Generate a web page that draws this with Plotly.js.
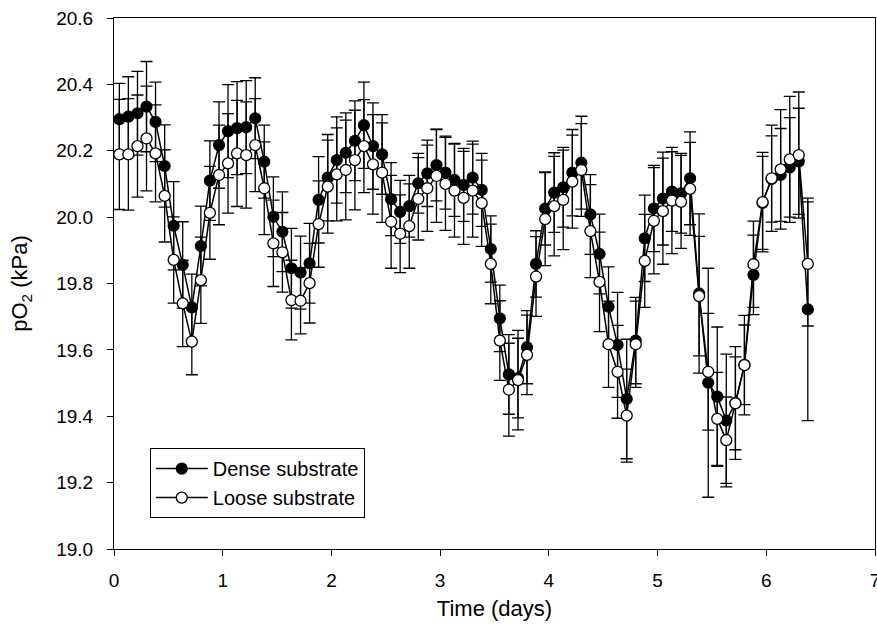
<!DOCTYPE html>
<html>
<head>
<meta charset="utf-8">
<script src="https://cdn.plot.ly/plotly-3.0.1.min.js"></script>
<style>html,body{margin:0;padding:0;background:#fff;}#chart{width:877px;height:631px;}</style>
</head>
<body>
<div id="chart"></div>
<script>
// Time (days)
const timeDays = [
  0.049, 0.132, 0.216, 0.299, 0.382, 0.466, 0.549, 0.632, 0.716, 0.799, 0.882, 0.966,
  1.049, 1.132, 1.216, 1.299, 1.382, 1.466, 1.549, 1.632, 1.716, 1.799, 1.882, 1.966,
  2.049, 2.132, 2.216, 2.299, 2.382, 2.466, 2.549, 2.632, 2.716, 2.799, 2.882, 2.966,
  3.049, 3.132, 3.216, 3.299, 3.382, 3.466, 3.549, 3.632, 3.716, 3.799, 3.882, 3.966,
  4.049, 4.132, 4.216, 4.299, 4.382, 4.466, 4.549, 4.632, 4.716, 4.799, 4.882, 4.966,
  5.049, 5.132, 5.216, 5.299, 5.382, 5.466, 5.549, 5.632, 5.716, 5.799, 5.882, 5.966,
  6.049, 6.132, 6.216, 6.299, 6.382
];
// Dense substrate pO2 (kPa)
const densePO2 = [
  20.295, 20.303, 20.313, 20.333, 20.287, 20.154, 19.974, 19.856, 19.728, 19.913, 20.110, 20.217,
  20.259, 20.268, 20.271, 20.298, 20.167, 20.001, 19.956, 19.846, 19.833, 19.861, 20.052, 20.119,
  20.172, 20.194, 20.230, 20.277, 20.214, 20.189, 20.054, 20.016, 20.033, 20.102, 20.132, 20.157,
  20.134, 20.112, 20.097, 20.119, 20.082, 19.904, 19.695, 19.526, 19.515, 19.608, 19.859, 20.026,
  20.074, 20.090, 20.134, 20.164, 20.008, 19.889, 19.730, 19.615, 19.452, 19.628, 19.936, 20.026,
  20.056, 20.077, 20.072, 20.117, 19.770, 19.501, 19.459, 19.387, 19.440, 19.555, 19.826, 20.043,
  20.115, 20.127, 20.150, 20.168, 19.722
];
const denseErr = [
  0.108, 0.120, 0.126, 0.136, 0.120, 0.124, 0.133, 0.130, 0.100, 0.120, 0.120, 0.130,
  0.140, 0.140, 0.140, 0.122, 0.110, 0.120, 0.120, 0.120, 0.110, 0.120, 0.130, 0.130,
  0.130, 0.120, 0.120, 0.130, 0.130, 0.120, 0.110, 0.095, 0.093, 0.090, 0.100, 0.108,
  0.110, 0.110, 0.110, 0.110, 0.110, 0.100, 0.100, 0.120, 0.120, 0.110, 0.100, 0.110,
  0.120, 0.120, 0.130, 0.140, 0.120, 0.120, 0.120, 0.158, 0.180, 0.130, 0.130, 0.130,
  0.140, 0.120, 0.120, 0.140, 0.240, 0.345, 0.210, 0.200, 0.170, 0.120, 0.120, 0.140,
  0.130, 0.140, 0.150, 0.160, 0.335
];
// Loose substrate pO2 (kPa)
const loosePO2 = [
  20.189, 20.189, 20.214, 20.237, 20.192, 20.064, 19.871, 19.740, 19.625, 19.810, 20.013, 20.127,
  20.162, 20.192, 20.187, 20.217, 20.087, 19.921, 19.894, 19.750, 19.748, 19.801, 19.979, 20.092,
  20.129, 20.142, 20.172, 20.214, 20.159, 20.134, 19.986, 19.950, 19.973, 20.055, 20.087, 20.124,
  20.100, 20.080, 20.058, 20.080, 20.042, 19.859, 19.628, 19.480, 19.509, 19.585, 19.821, 19.994,
  20.033, 20.052, 20.107, 20.142, 19.958, 19.805, 19.617, 19.534, 19.402, 19.617, 19.868, 19.989,
  20.018, 20.050, 20.046, 20.085, 19.762, 19.534, 19.392, 19.328, 19.439, 19.554, 19.858, 20.045,
  20.117, 20.144, 20.174, 20.187, 19.859
];
const looseErr = [
  0.166, 0.168, 0.154, 0.158, 0.146, 0.139, 0.130, 0.130, 0.100, 0.130, 0.140, 0.150,
  0.150, 0.160, 0.160, 0.140, 0.140, 0.130, 0.120, 0.120, 0.100, 0.120, 0.130, 0.140,
  0.140, 0.150, 0.150, 0.140, 0.150, 0.150, 0.140, 0.117, 0.127, 0.124, 0.130, 0.140,
  0.140, 0.140, 0.140, 0.140, 0.130, 0.120, 0.120, 0.140, 0.150, 0.120, 0.120, 0.140,
  0.150, 0.150, 0.140, 0.140, 0.140, 0.150, 0.130, 0.140, 0.140, 0.130, 0.140, 0.160,
  0.160, 0.160, 0.140, 0.140, 0.180, 0.176, 0.140, 0.130, 0.140, 0.150, 0.130, 0.150,
  0.160, 0.180, 0.190, 0.190, 0.187
];
const seriesNames = ["Dense substrate", "Loose substrate"];
const yTicks = [19.0, 19.2, 19.4, 19.6, 19.8, 20.0, 20.2, 20.4, 20.6];
const xTicks = [0, 1, 2, 3, 4, 5, 6, 7];

const FONT = "Arial, 'Liberation Sans', sans-serif";
const errStyle = {type: "data", visible: true, color: "#000", thickness: 1.3, width: 6};

const traces = [
  {
    x: timeDays, y: densePO2, name: seriesNames[0], type: "scatter", mode: "lines+markers",
    line: {color: "#000", width: 1.5},
    marker: {symbol: "circle", size: 11, color: "#000", line: {color: "#000", width: 1.2}},
    error_y: Object.assign({array: denseErr}, errStyle)
  },
  {
    x: timeDays, y: loosePO2, name: seriesNames[1], type: "scatter", mode: "lines+markers",
    line: {color: "#000", width: 1.5},
    marker: {symbol: "circle", size: 11, color: "#fff", line: {color: "#000", width: 1.3}},
    error_y: Object.assign({array: looseErr}, errStyle)
  }
];

const layout = {
  width: 877, height: 631,
  margin: {l: 114, r: 2, t: 18, b: 82},
  paper_bgcolor: "#fff", plot_bgcolor: "#fff",
  font: {family: FONT, size: 19, color: "#000"},
  showlegend: true,
  legend: {
    x: 0.047, y: 0.19, xanchor: "left", yanchor: "top",
    bordercolor: "#000", borderwidth: 1, bgcolor: "#fff",
    font: {family: FONT, size: 20, color: "#000"},
    itemwidth: 52, tracegroupgap: 0
  },
  xaxis: {
    range: [0, 7], tickvals: xTicks, ticktext: xTicks.map(String),
    ticks: "outside", ticklen: 6, tickwidth: 1, tickcolor: "#000",
    ticklabelstandoff: 8, ticklabeloverflow: "allow",
    showline: true, linecolor: "#000", linewidth: 1, mirror: true,
    showgrid: false, zeroline: false,
    tickfont: {family: FONT, size: 19, color: "#000"},
    title: {text: "Time (days)", font: {family: FONT, size: 22, color: "#000"}, standoff: 10}
  },
  yaxis: {
    range: [19.0, 20.6], tickvals: yTicks, ticktext: yTicks.map(v => v.toFixed(1)),
    ticks: "outside", ticklen: 6, tickwidth: 1, tickcolor: "#000",
    ticklabelstandoff: 10, ticklabeloverflow: "allow",
    showline: true, linecolor: "#000", linewidth: 1, mirror: true,
    showgrid: false, zeroline: false,
    tickfont: {family: FONT, size: 19, color: "#000"},
    title: {text: "pO<sub>2</sub> (kPa)", font: {family: FONT, size: 22, color: "#000"}, standoff: 22}
  }
};

Plotly.newPlot("chart", traces, layout, {staticPlot: true, displayModeBar: false});
</script>
</body>
</html>
